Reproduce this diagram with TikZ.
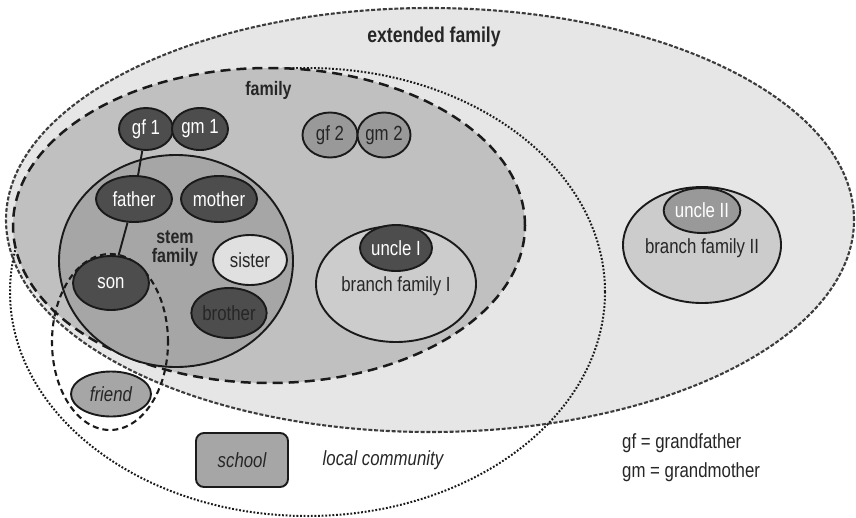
\documentclass[tikz,border=0pt]{standalone}
\usepackage{fontspec}
\setmainfont{Liberation Sans}[FakeStretch=0.82]
\usetikzlibrary{shapes.geometric}
\definecolor{extfill}{HTML}{E6E6E6}
\definecolor{famfill}{HTML}{C0C0C0}
\definecolor{stemfill}{HTML}{A6A6A6}
\definecolor{branchfill}{HTML}{CCCCCC}
\definecolor{darkc}{HTML}{4D4D4D}
\definecolor{midc}{HTML}{999999}
\definecolor{lightc}{HTML}{E0E0E0}
\definecolor{linec}{HTML}{1A1A1A}
\definecolor{textc}{HTML}{262626}
\begin{document}
\begin{tikzpicture}[x=1pt,y=-1pt,
  txt/.style={font=\fontsize{20.5}{24}\selectfont, inner sep=0pt, text=textc},
  boldtxt/.style={font=\fontsize{19.5}{19}\selectfont\bfseries, inner sep=0pt, text=textc, align=center},
  region/.style={ellipse, inner sep=0pt},
  blob/.style={ellipse, draw=linec, line width=1.9pt, inner sep=0pt, txt},
  darkblob/.style={blob, fill=darkc, text=white},
  midblob/.style={blob, fill=midc},
  conn/.style={draw=linec, line width=1.9pt}]
\useasboundingbox (0,0) rectangle (856,517);
% regions
\node[region, fill=extfill, draw=linec!85, line width=2.1pt, dash pattern=on 4pt off 1.8pt,
      minimum width=848pt, minimum height=424pt] (ext) at (430,220) {};
\node[region, draw=linec, line width=2pt, dash pattern=on 1.8pt off 1.8pt,
      minimum width=595pt, minimum height=448pt] (local) at (307.5,292) {};
\node[region, fill=famfill, draw=linec, line width=2.5pt, dash pattern=on 10pt off 6pt,
      minimum width=512pt, minimum height=315pt] (fam) at (269,225.5) {};
\node[region, fill=stemfill, draw=linec, line width=1.9pt,
      minimum width=234pt, minimum height=212pt] (stem) at (176,261) {};
\node[region, fill=branchfill, draw=linec, line width=1.9pt,
      minimum width=160pt, minimum height=116pt] (br1) at (396,284) {};
\node[region, fill=branchfill, draw=linec, line width=1.9pt,
      minimum width=158pt, minimum height=116pt] (br2) at (702,245) {};
\node[region, draw=linec, line width=2.1pt, dash pattern=on 6pt off 4pt,
      minimum width=116pt, minimum height=176pt] (songrp) at (110,342) {};
% labels
\node[boldtxt, font=\fontsize{21.5}{21}\selectfont\bfseries] (extlbl) at (434,37) {extended family};
\node[boldtxt] (famlbl) at (268.5,90) {family};
\node[boldtxt] (stemlbl) at (175,249) {stem\\family};
\node[txt] (br1lbl) at (396,286) {branch family I};
\node[txt] (br2lbl) at (702,248) {branch family II};
\node[txt, font=\fontsize{20.5}{24}\selectfont\itshape] (loclbl) at (383,460) {local community};
\node[txt, anchor=base west] (leg1) at (622,448) {gf = grandfather};
\node[txt, anchor=base west] (leg2) at (622,477) {gm = grandmother};
% people
\node[darkblob, minimum width=54pt, minimum height=42pt] (gf1) at (146,129) {gf 1};
\node[darkblob, minimum width=56pt, minimum height=42pt] (gm1) at (200,129) {gm 1};
\node[midblob, minimum width=55pt, minimum height=45pt] (gf2) at (330,135) {gf 2};
\node[midblob, minimum width=53pt, minimum height=45pt] (gm2) at (384,135) {gm 2};
\node[darkblob, minimum width=76pt, minimum height=46pt] (father) at (134,199) {father};
\node[darkblob, minimum width=76pt, minimum height=46pt] (mother) at (219,199) {mother};
\node[blob, fill=lightc, minimum width=74pt, minimum height=50pt] (sister) at (250,260) {sister};
\node[darkblob, minimum width=76pt, minimum height=54pt] (son) at (111,283) {son};
\node[blob, fill=darkc, minimum width=73pt, minimum height=50pt] (brother) at (229,313) {brother};
\node[blob, fill=stemfill, minimum width=80pt, minimum height=45pt,
      font=\fontsize{20.5}{24}\selectfont\itshape] (friend) at (111,394) {friend};
\node[darkblob, minimum width=72pt, minimum height=46pt] (uncle1) at (396,248) {uncle I};
\node[midblob, text=white, minimum width=72pt, minimum height=45pt] (uncle2) at (702,210.5) {uncle II};
\node[txt, draw=linec, line width=1.9pt, fill=stemfill, rounded corners=8pt,
      minimum width=92pt, minimum height=54pt,
      font=\fontsize{20.5}{24}\selectfont\itshape] (school) at (242,460) {school};
% connectors
\draw[conn] (gf1) -- (father);
\draw[conn] (father) -- (son);
\end{tikzpicture}
\end{document}
